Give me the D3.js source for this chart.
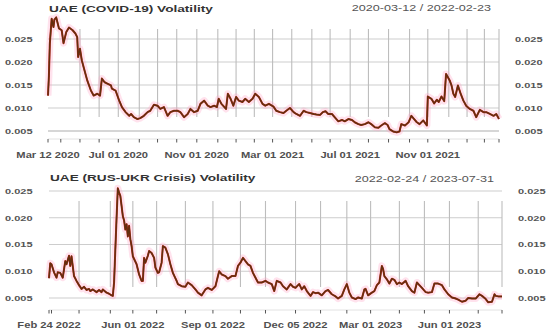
<!DOCTYPE html>
<html><head><meta charset="utf-8">
<script src="https://cdn.jsdelivr.net/npm/d3@7/dist/d3.min.js"></script>
<style>body{margin:0;background:#fff}svg{display:block}</style>
</head><body>
<svg id="c" width="550" height="332"></svg>
<script>
// ---------- DATA ----------
// Panel 1: UAE (COVID-19) volatility, x = trading-day index from 2020-03-12
const covidDays = [0,1,2,4,6,7,9,12,15,17,20,23,27,30,32,33,35,37,39,43,47,50,54,57,59,62,65,69,70,74,78,81,85,89,91,94,98,101,105,109,112,116,120,123,127,131,134,138,142,145,149,153,156,160,164,167,171,175,178,182,185,187,190,195,197,200,203,206,209,213,216,220,224,227,231,235,238,242,247,250,254,258,261,265,269,272,276,280,283,287,291,294,298,301,304,307,311,314,318,322,325,329,333,336,340,343,347,351,354,358,362,365,369,372,374,378,382,385,387,391,395,398,401,404,407,411,415,416,420,423,426,428,431,434,436,438,440,442,444,446,449,452,455,458,462,466,469,473,477,480,484,488,491,494];
const covidVol = [0.0127,0.0170,0.0240,0.0294,0.0276,0.0292,0.0297,0.0273,0.0269,0.0241,0.0265,0.0275,0.0269,0.0262,0.0254,0.0211,0.0229,0.0204,0.0189,0.0160,0.0138,0.0127,0.0131,0.0127,0.0164,0.0156,0.0153,0.0149,0.0142,0.0138,0.0116,0.0102,0.0091,0.0083,0.0087,0.0080,0.0076,0.0078,0.0083,0.0091,0.0094,0.0107,0.0105,0.0098,0.0102,0.0083,0.0091,0.0094,0.0094,0.0091,0.0080,0.0087,0.0098,0.0091,0.0094,0.0109,0.0116,0.0105,0.0102,0.0105,0.0102,0.0120,0.0109,0.0098,0.0131,0.0120,0.0105,0.0124,0.0116,0.0113,0.0120,0.0113,0.0120,0.0131,0.0124,0.0109,0.0105,0.0109,0.0103,0.0094,0.0091,0.0089,0.0094,0.0100,0.0091,0.0087,0.0083,0.0094,0.0091,0.0089,0.0087,0.0086,0.0085,0.0091,0.0093,0.0087,0.0087,0.0080,0.0071,0.0074,0.0071,0.0076,0.0074,0.0069,0.0065,0.0063,0.0065,0.0069,0.0065,0.0058,0.0057,0.0062,0.0067,0.0063,0.0054,0.0049,0.0047,0.0049,0.0065,0.0062,0.0069,0.0083,0.0076,0.0069,0.0065,0.0073,0.0062,0.0125,0.0120,0.0110,0.0118,0.0113,0.0125,0.0115,0.0174,0.0167,0.0160,0.0149,0.0131,0.0124,0.0149,0.0131,0.0116,0.0105,0.0098,0.0094,0.0080,0.0096,0.0091,0.0091,0.0087,0.0083,0.0087,0.0076];
const covidTickDays = [0,14,35,56,77,100,120,141,163,186,206,226,246,267,289,309,331,351,373,396,416,439,459,478,494];
const covidTickLabels = ["Mar 12 2020","","","","Jul 01 2020","","","","Nov 01 2020","","","","Mar 01 2021","","","","Jul 01 2021","","","","Nov 01 2021","","","",""];
const covidGridDays = [35,56,77,100,120,141,163,186,206,226,246,267,289,309,331,351,373,396,416,439,459,478,494];

// Panel 2: UAE (RUS-UKR Crisis) volatility, x = trading-day index from 2022-02-24
const crisisDays = [0,1,2,4,6,7,9,11,13,14,16,17,18,20,22,24,26,28,30,32,33,35,38,40,42,43,46,48,50,51,52,53,54,55,56,57,58,59,60,61,62,63,64,65,66,67,70,72,74,75,76,77,79,80,82,84,85,87,88,90,91,93,95,97,99,102,103,106,109,111,114,117,119,122,125,127,130,133,135,136,138,141,143,146,149,151,153,155,157,159,161,163,165,167,170,173,175,178,180,182,185,187,190,193,195,197,199,200,202,204,206,209,211,213,215,218,221,223,226,229,231,234,236,238,240,242,245,247,250,252,253,255,258,260,262,264,266,267,268,270,272,274,276,278,280,282,285,287,290,292,294,296,298,301,303,306,308,311,314,316,319,322,325,327,330,333,335,338,341,344,346,349,351,354,356,357,359,362];
const crisisVol = [0.0087,0.0115,0.0113,0.0098,0.0088,0.0098,0.0097,0.0088,0.0119,0.0113,0.0129,0.0110,0.0128,0.0091,0.0082,0.0074,0.0067,0.0071,0.0065,0.0067,0.0063,0.0066,0.0061,0.0065,0.0061,0.0066,0.0060,0.0058,0.0055,0.0054,0.0079,0.0140,0.0200,0.0255,0.0247,0.0241,0.0222,0.0203,0.0195,0.0178,0.0188,0.0165,0.0185,0.0160,0.0147,0.0128,0.0113,0.0094,0.0082,0.0082,0.0125,0.0116,0.0129,0.0138,0.0134,0.0125,0.0107,0.0097,0.0098,0.0116,0.0147,0.0144,0.0132,0.0113,0.0097,0.0082,0.0076,0.0072,0.0071,0.0079,0.0074,0.0066,0.0060,0.0055,0.0066,0.0069,0.0065,0.0072,0.0091,0.0100,0.0094,0.0091,0.0086,0.0091,0.0091,0.0110,0.0116,0.0125,0.0119,0.0113,0.0110,0.0097,0.0088,0.0079,0.0079,0.0082,0.0079,0.0076,0.0063,0.0082,0.0079,0.0072,0.0066,0.0076,0.0071,0.0069,0.0074,0.0076,0.0066,0.0072,0.0063,0.0054,0.0061,0.0059,0.0060,0.0055,0.0063,0.0065,0.0057,0.0053,0.0049,0.0054,0.0066,0.0076,0.0060,0.0051,0.0048,0.0051,0.0049,0.0066,0.0067,0.0055,0.0060,0.0063,0.0074,0.0079,0.0110,0.0104,0.0091,0.0085,0.0077,0.0086,0.0084,0.0076,0.0079,0.0076,0.0082,0.0072,0.0063,0.0060,0.0079,0.0074,0.0069,0.0061,0.0060,0.0061,0.0077,0.0077,0.0074,0.0066,0.0057,0.0051,0.0049,0.0047,0.0043,0.0045,0.0050,0.0049,0.0049,0.0057,0.0054,0.0048,0.0042,0.0043,0.0057,0.0054,0.0053,0.0053];
const crisisTickDays = [0,2,24,49,67,86,109,131,153,173,197,217,238,257,280,300,320,343,362];
const crisisTickLabels = ["Feb 24 2022","","","","Jun 01 2022","","","Sep 01 2022","","","Dec 05 2022","","","Mar 01 2023","","","Jun 01 2023","",""];
const crisisGridDays = [24,49,67,86,109,131,153,173,197,217,238,257,280,300,320,343,362];

const yTicks = [0.005,0.010,0.015,0.020,0.025];
const titles = ["UAE (COVID-19) Volatility","UAE (RUS-UKR Crisis) Volatility"];
const ranges = ["2020-03-12 / 2022-02-23","2022-02-24 / 2023-07-31"];

// ---------- DRAW ----------
const svg = d3.select("#c");
const FONT = "'Liberation Sans', Arial, sans-serif";

function txt(g, x, y, s, o) {
  return g.append("text")
    .attr("transform", `translate(${x},${y}) scale(${o.sx},1)`)
    .attr("text-anchor", o.anchor || "start")
    .attr("font-family", FONT)
    .attr("font-size", o.size)
    .attr("font-weight", o.weight || "normal")
    .attr("fill", o.fill || "#555")
    .text(s);
}

function panel(cfg) {
  const g = svg.append("g");
  const x = d3.scaleLinear().domain([0, cfg.nDays]).range([cfg.left, cfg.right]);
  const y = d3.scaleLinear().domain([0.005, 0.025]).range([cfg.yBottom, cfg.yTop]);

  // horizontal grid
  g.selectAll(".hg").data(yTicks).enter().append("line")
    .attr("x1", cfg.left).attr("x2", cfg.right)
    .attr("y1", d => y(d)).attr("y2", d => y(d))
    .attr("stroke", (d,i) => i === 0 && cfg.thickBase ? "#d6d6d6" : "#cdcdcd")
    .attr("stroke-width", (d,i) => i === 0 && cfg.thickBase ? 2 : 1);

  // vertical grid
  g.selectAll(".vg").data(cfg.grid).enter().append("line")
    .attr("x1", d => x(d)).attr("x2", d => x(d))
    .attr("y1", cfg.vTop).attr("y2", cfg.vBottom)
    .attr("stroke", "#bdbdbd").attr("stroke-width", 1.1);

  // x axis ticks
  g.append("line").attr("x1", cfg.left).attr("x2", cfg.right)
    .attr("y1", cfg.tickY).attr("y2", cfg.tickY)
    .attr("stroke", "#e2e2e2").attr("stroke-width", 1);
  g.selectAll(".tk").data(cfg.ticks).enter().append("line")
    .attr("x1", d => x(d)).attr("x2", d => x(d))
    .attr("y1", cfg.tickY).attr("y2", cfg.tickY + 3.5)
    .attr("stroke", "#555").attr("stroke-width", 1);
  cfg.ticks.forEach((d, i) => {
    if (cfg.labels[i]) txt(g, x(d), cfg.labelY, cfg.labels[i], {size: 8.4, sx: 1.33, anchor: "middle", weight: "bold", fill: "#505050"});
  });

  // y labels both sides
  yTicks.forEach(v => {
    txt(g, 5, y(v) + 2.8, d3.format(".3f")(v), {size: 7.6, sx: 1.45, fill: "#555", weight: "bold"});
    txt(g, cfg.rightLabelX, y(v) + 2.8, d3.format(".3f")(v), {size: 7.6, sx: 1.45, fill: "#555", weight: "bold"});
  });

  // line
  const pts = cfg.days.map((d, i) => [d, cfg.vol[i]]);
  const line = d3.line().x(p => x(p[0])).y(p => y(p[1]));
  g.append("path").attr("d", line(pts)).attr("fill", "none")
    .attr("stroke", "#ff9ec4").attr("stroke-opacity", 0.3).attr("stroke-width", 7)
    .attr("stroke-linejoin", "round");
  g.append("path").attr("d", line(pts)).attr("fill", "none")
    .attr("stroke", "#b8261a").attr("stroke-width", 2).attr("stroke-linejoin", "round");
  g.append("path").attr("d", line(pts)).attr("fill", "none")
    .attr("stroke", "#62300f").attr("stroke-width", 1.4).attr("stroke-linejoin", "round");

  // titles
  txt(g, cfg.left + 1, cfg.titleY, cfg.title, {size: 9.4, sx: 1.45, weight: "bold", fill: "#333"});
  txt(g, cfg.rangeRight, cfg.rangeY, cfg.range, {size: 8.4, sx: 1.5, anchor: "end", fill: "#555"});
}

panel({
  days: covidDays, vol: covidVol, nDays: 494,
  left: 48, right: 499, yTop: 39, yBottom: 131,
  vTop: 29, vBottom: 117, tickY: 139, labelY: 158.3,
  ticks: covidTickDays, labels: covidTickLabels, grid: covidGridDays,
  rightLabelX: 515, title: titles[0], range: ranges[0],
  titleY: 12, rangeY: 11, rangeRight: 491, thickBase: true
});
panel({
  days: crisisDays, vol: crisisVol, nDays: 362,
  left: 49, right: 502, yTop: 191, yBottom: 298,
  vTop: 201, vBottom: 287, tickY: 310, labelY: 328.3,
  ticks: crisisTickDays, labels: crisisTickLabels, grid: crisisGridDays,
  rightLabelX: 518, title: titles[1], range: ranges[1],
  titleY: 181, rangeY: 181.5, rangeRight: 494, thickBase: false
});
</script>
</body></html>
